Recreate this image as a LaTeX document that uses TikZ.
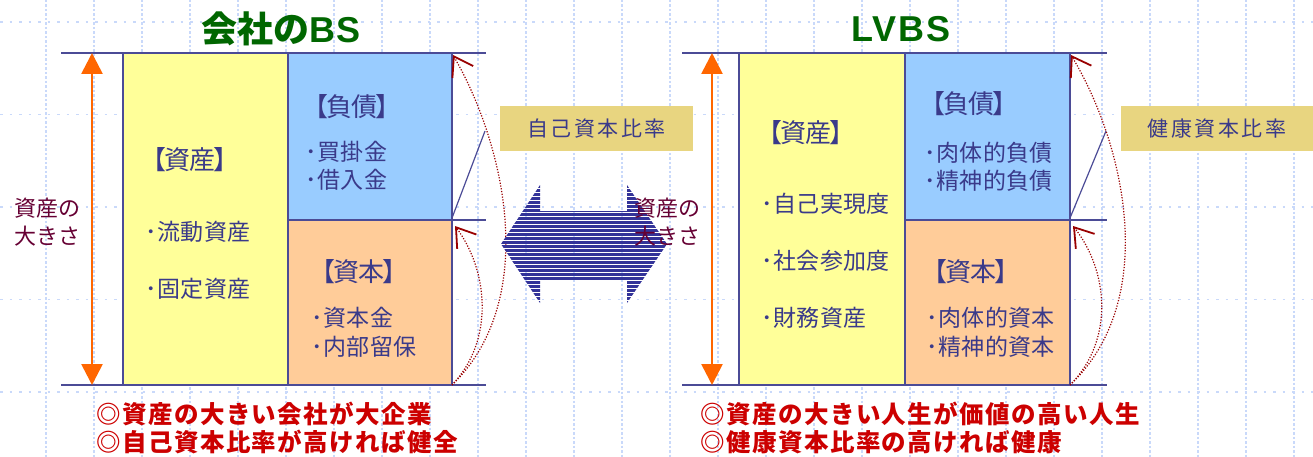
\documentclass[tikz,border=0pt]{standalone}
\usepackage{fontspec}
\setmainfont{Noto Sans CJK JP}
\newfontfamily\lat{Liberation Sans}
\usetikzlibrary{arrows.meta}
\definecolor{yel}{HTML}{FFFF99}
\definecolor{blu}{HTML}{99CCFF}
\definecolor{ora}{HTML}{FFCC99}
\definecolor{edge}{HTML}{4B4B96}
\definecolor{txt}{HTML}{3A3A8A}
\definecolor{ttl}{HTML}{006600}
\definecolor{arr}{HTML}{FF6600}
\definecolor{mar}{HTML}{660033}
\definecolor{rd}{HTML}{CC0000}
\definecolor{tanbox}{HTML}{E8D580}
\definecolor{crv}{HTML}{990000}
\definecolor{grd}{HTML}{C9D9FA}
\definecolor{navy}{HTML}{333399}
\tikzset{
  vgrid/.style={grd,line width=1.5pt,dash pattern=on 2.5pt off 2pt},
  hgrid/.style={grd,line width=1.5pt,dash pattern=on 2.5pt off 7pt},
  bx/.style={draw=edge,line width=1.5pt,inner sep=0pt},
  hl/.style={draw=edge,line width=1.5pt},
  diag/.style={draw=edge,line width=1.2pt},
  oarrow/.style={draw=arr,line width=2.7pt,{Triangle[length=21pt,width=21pt]}-{Triangle[length=21pt,width=21pt]}},
  crvs/.style={draw=crv,line width=1.2pt,dash pattern=on 1.2pt off 1.6pt,-{Straight Barb[length=18pt,width=24pt,line width=1.8pt]}},
  btxt/.style={anchor=base west,inner sep=0pt,text=txt,font=\fontsize{23}{26}\selectfont\addfontfeature{LetterSpace=2}},
  htxt/.style={anchor=base west,inner sep=0pt,text=txt,font=\fontsize{26}{28}\selectfont\addfontfeature{LetterSpace=-6}},
  rtxt/.style={anchor=base west,inner sep=0pt,text=rd,font=\bfseries\fontsize{24.5}{28}\selectfont\addfontfeature{LetterSpace=6}},
  lbl/.style={anchor=center,inner sep=0pt,text=mar,align=center,font=\fontsize{22}{28}\selectfont},
  ttltxt/.style={anchor=base,inner sep=0pt,text=ttl,font=\bfseries\fontsize{36}{40}\selectfont},
  tanlbl/.style={fill=tanbox,inner sep=0pt,text=txt,font=\fontsize{21}{24}\selectfont\addfontfeature{LetterSpace=12}}
}
\begin{document}
\begin{tikzpicture}[x=1pt,y=-1pt]
\useasboundingbox (0,0) rectangle (1313,457);
% background grid
\foreach \k in {0,...,26} \draw[vgrid] (46+48*\k,0) -- (46+48*\k,457);
\foreach \k in {0,...,4} \draw[hgrid] (0,22+92.5*\k) -- (1313,22+92.5*\k);

% ===== left BS =====
\node[ttltxt] (T1) at (281,43) {会社の{\lat\addfontfeature{LetterSpace=3}BS}};
\coordinate (L0a) at (61,53);  \coordinate (L0b) at (486,53);
\coordinate (L1a) at (452,220); \coordinate (L1b) at (486,220);
\coordinate (L2a) at (61,385); \coordinate (L2b) at (486,385);
\draw[hl] (L0a) -- (L0b);
\draw[hl] (L1a) -- (L1b);
\draw[hl] (L2a) -- (L2b);
\node[bx,fill=yel,minimum width=165pt,minimum height=332pt] (LA) at (205.5,219) {};
\node[bx,fill=blu,minimum width=164pt,minimum height=167pt] (LL) at (370,136.5) {};
\node[bx,fill=ora,minimum width=164pt,minimum height=165pt] (LC) at (370,302.5) {};
\coordinate (LAt) at (92,53); \coordinate (LAb) at (92,385);
\draw[oarrow] (LAt) -- (LAb);
\node[lbl] (LS) at (47,222) {資産の\\大きさ};
\node[htxt] (la1) at (140,170) {【資産】};
\node[btxt] (la2) at (145,240.8) {･流動資産};
\node[btxt] (la3) at (145,297.8) {･固定資産};
\node[htxt] (ll1) at (302,117) {【負債】};
\node[btxt] (ll2) at (305,160.8) {･買掛金};
\node[btxt] (ll3) at (305,188.8) {･借入金};
\node[htxt] (lc1) at (309,281) {【資本】};
\node[btxt] (lc2) at (311,326.8) {･資本金};
\node[btxt] (lc3) at (311,355.8) {･内部留保};
\coordinate (LDa) at (452,218); \coordinate (LDb) at (485,131);
\draw[diag] (LDa) -- (LDb);
\coordinate (LB) at (452,385); \coordinate (LP1) at (453,55); \coordinate (LP2) at (455,226);
\draw[crvs] (LB) .. controls (540,300) and (505,145) .. (LP1);
\draw[crvs] (LB) .. controls (495,340) and (488,270) .. (LP2);
\node[tanlbl,minimum width=193pt,minimum height=45pt] (LR) at (596.5,128.5) {自己資本比率};
\node[rtxt] (lr1) at (96,423.5) {◎資産の大きい会社が大企業};
\node[rtxt] (lr2) at (96,451.5) {◎自己資本比率が高ければ健全};

% ===== middle double arrow =====
\begin{scope}
\clip (501,244) -- (540,185) -- (540,211) -- (627,211) -- (627,185) -- (667,244) -- (627,303) -- (627,280) -- (540,280) -- (540,303) -- cycle;
\foreach \y in {185,189,...,305} \fill[navy] (495,\y) rectangle (675,\y+3.2);
\end{scope}

% ===== right LVBS =====
\node[ttltxt] (T2) at (901,42) {{\lat\addfontfeature{LetterSpace=6}LVBS}};
\coordinate (R0a) at (682,53);  \coordinate (R0b) at (1107,53);
\coordinate (R1a) at (1070,220); \coordinate (R1b) at (1107,220);
\coordinate (R2a) at (682,385); \coordinate (R2b) at (1107,385);
\draw[hl] (R0a) -- (R0b);
\draw[hl] (R1a) -- (R1b);
\draw[hl] (R2a) -- (R2b);
\node[bx,fill=yel,minimum width=166pt,minimum height=332pt] (RA) at (822,219) {};
\node[bx,fill=blu,minimum width=165pt,minimum height=167pt] (RL) at (987.5,136.5) {};
\node[bx,fill=ora,minimum width=165pt,minimum height=165pt] (RC) at (987.5,302.5) {};
\coordinate (RAt) at (712,53); \coordinate (RAb) at (712,385);
\draw[oarrow] (RAt) -- (RAb);
\node[lbl] (RS) at (667,222) {資産の\\大きさ};
\node[htxt] (ra1) at (756,143) {【資産】};
\node[btxt] (ra2) at (761,212.8) {･自己実現度};
\node[btxt] (ra3) at (761,269.8) {･社会参加度};
\node[btxt] (ra4) at (761,326.8) {･財務資産};
\node[htxt] (rl1) at (919,114) {【負債】};
\node[btxt] (rl2) at (924,161.8) {･肉体的負債};
\node[btxt] (rl3) at (924,189.8) {･精神的負債};
\node[htxt] (rc1) at (921,281) {【資本】};
\node[btxt] (rc2) at (926,326.8) {･肉体的資本};
\node[btxt] (rc3) at (926,355.8) {･精神的資本};
\coordinate (RDa) at (1070,218); \coordinate (RDb) at (1106,131);
\draw[diag] (RDa) -- (RDb);
\coordinate (RB) at (1070,385); \coordinate (RP1) at (1071,55); \coordinate (RP2) at (1073,226);
\draw[crvs] (RB) .. controls (1160,300) and (1125,145) .. (RP1);
\draw[crvs] (RB) .. controls (1115,340) and (1108,270) .. (RP2);
\node[tanlbl,minimum width=192pt,minimum height=45pt] (RR) at (1217,128.5) {健康資本比率};
\node[rtxt] (rr1) at (700,423.5) {◎資産の大きい人生が価値の高い人生};
\node[rtxt] (rr2) at (700,451.5) {◎健康資本比率の高ければ健康};
\end{tikzpicture}
\end{document}
